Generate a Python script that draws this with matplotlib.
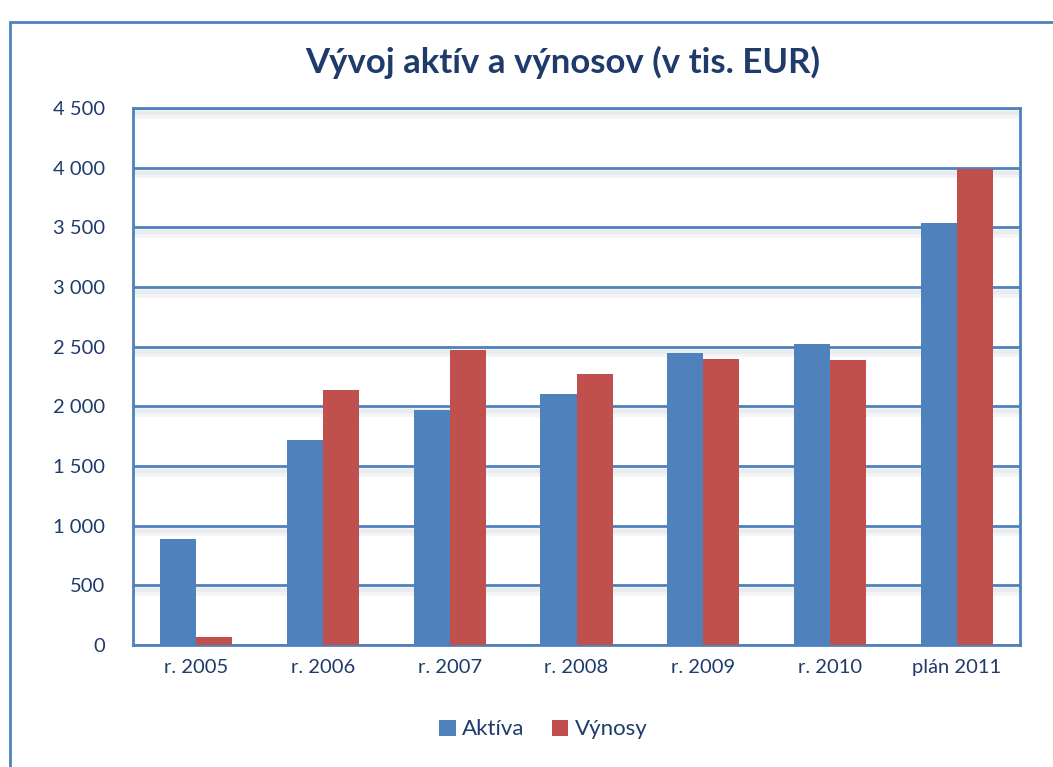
import matplotlib.pyplot as plt
import matplotlib.patheffects as pe
from matplotlib.patches import Rectangle
import numpy as np

# Data (tis. EUR)
years = ['r. 2005', 'r. 2006', 'r. 2007', 'r. 2008', 'r. 2009', 'r. 2010', 'plán 2011']
aktiva = [890, 1715, 1967, 2101, 2447, 2521, 3539]
vynosy = [65, 2135, 2472, 2269, 2397, 2388, 3991]

blue = '#4F81BD'
red = '#C0504D'
navy = '#1F3B6B'

plt.rcParams['font.family'] = ['Lato', 'DejaVu Sans']

fig = plt.figure(figsize=(10.53, 7.67), dpi=100)
ax = fig.add_axes([0.1263, 0.159, 0.8424, 0.700])

# outer chart frame (runs off the right and bottom edges)
fig.patches.append(Rectangle((10 / 1053, -0.1), 1.2, (767 - 22) / 767 + 0.1,
                             transform=fig.transFigure, fill=False,
                             edgecolor=blue, linewidth=2))

x = np.arange(len(years))
w = 0.285
ax.bar(x - w / 2, aktiva, w, color=blue, label='Aktíva', zorder=3)
ax.bar(x + w / 2, vynosy, w, color=red, label='Výnosy', zorder=3)

ax.set_xlim(-0.5, len(years) - 0.5)
ax.set_ylim(0, 4500)
ax.set_yticks(np.arange(0, 4501, 500))
ax.set_yticklabels([f'{v:,}'.replace(',', ' ') for v in range(0, 4501, 500)])
ax.set_xticks(x)
ax.set_xticklabels(years)
ax.tick_params(length=0, labelsize=14.5, colors=navy, pad=10)
ax.tick_params(axis='y', pad=20)

# soft shadow under the gridlines like the original
shadow = [pe.SimpleLineShadow(offset=(1.5, -4), shadow_color='#9AA6B8', alpha=0.12, linewidth=7),
          pe.SimpleLineShadow(offset=(1.5, -3.5), shadow_color='#9AA6B8', alpha=0.10, linewidth=3),
          pe.Normal()]
ax.yaxis.grid(True, color=blue, linewidth=2, zorder=1)
for gl in ax.get_ygridlines():
    gl.set_path_effects(shadow)
ax.set_axisbelow(True)
for s in ax.spines.values():
    s.set_color(blue)
    s.set_linewidth(2)

fig.text(0.534, 0.919, 'Vývoj aktív a výnosov (v tis. EUR)', ha='center', va='center',
         fontsize=25, fontweight='bold', color=navy)

fig.legend(loc='center', bbox_to_anchor=(0.516, 0.049), ncol=2, frameon=False,
           fontsize=16, labelcolor=navy, handlelength=0.75, handleheight=0.75,
           handletextpad=0.3, columnspacing=1.2)

fig.savefig('out.png', dpi=100)
